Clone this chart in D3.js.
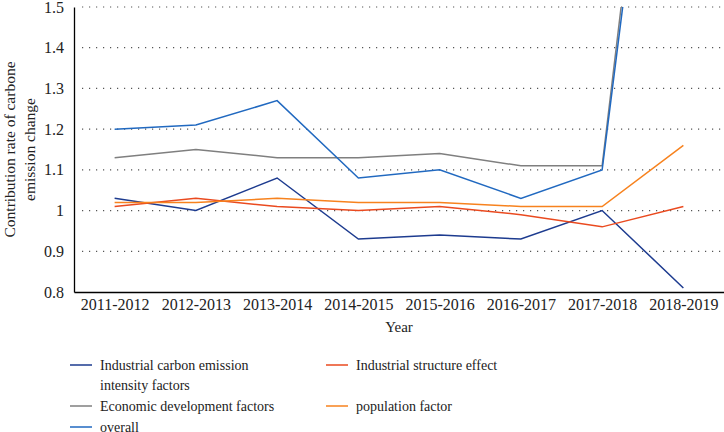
<!DOCTYPE html>
<html>
<head>
<meta charset="utf-8">
<script src="https://cdn.jsdelivr.net/npm/d3@7"></script>
<style>
  body { margin: 0; background: #fff; }
  svg text { font-family: "Liberation Serif", "DejaVu Serif", serif !important; fill: #222; }
</style>
</head>
<body>
<svg width="724" height="432"></svg>
<script>
// Data
var years = ["2011-2012", "2012-2013", "2013-2014", "2014-2015", "2015-2016", "2016-2017", "2017-2018", "2018-2019"];
var intensity = [1.03, 1.00, 1.08, 0.93, 0.94, 0.93, 1.00, 0.81];
var structure = [1.01, 1.03, 1.01, 1.00, 1.01, 0.99, 0.96, 1.01];
var economic = [1.13, 1.15, 1.13, 1.13, 1.14, 1.11, 1.11, 2.78];
var population = [1.02, 1.02, 1.03, 1.02, 1.02, 1.01, 1.01, 1.16];
var overall = [1.20, 1.21, 1.27, 1.08, 1.10, 1.03, 1.10, 2.68];
var yTicks = [0.8, 0.9, 1, 1.1, 1.2, 1.3, 1.4, 1.5];

var series = [
  { name: "Industrial carbon emission intensity factors", values: intensity, color: "#1d3b8f" },
  { name: "Industrial structure effect", values: structure, color: "#ea4a1f" },
  { name: "Economic development factors", values: economic, color: "#7f7f7f" },
  { name: "population factor", values: population, color: "#f7821e" },
  { name: "overall", values: overall, color: "#2169c0" }
];

var serif = '"Liberation Serif", "DejaVu Serif", serif';
var svg = d3.select("svg");
var pLeft = 74, pRight = 724, pTop = 7, pBottom = 292;

var x = d3.scalePoint().domain(years).range([pLeft, pRight]).padding(0.5);
var y = d3.scaleLinear().domain([0.8, 1.5]).range([pBottom, pTop]);

// dotted gridlines
svg.append("g")
  .selectAll("line")
  .data(yTicks.filter(function(d) { return d > 0.8; }))
  .enter().append("line")
  .attr("x1", pLeft + 8).attr("x2", pRight)
  .attr("y1", function(d) { return y(d); })
  .attr("y2", function(d) { return y(d); })
  .attr("stroke", "#555")
  .attr("stroke-width", 1.2)
  .attr("stroke-dasharray", "1.2,5.8");

// clip for lines running over the top
svg.append("clipPath").attr("id", "plot")
  .append("rect").attr("x", pLeft).attr("y", pTop).attr("width", pRight - pLeft).attr("height", pBottom - pTop);

var line = d3.line()
  .x(function(d, i) { return x(years[i]); })
  .y(function(d) { return y(d); });

svg.append("g").attr("clip-path", "url(#plot)")
  .selectAll("path")
  .data([series[0], series[1], series[3], series[2], series[4]])
  .enter().append("path")
  .attr("d", function(d) { return line(d.values); })
  .attr("fill", "none")
  .attr("stroke", function(d) { return d.color; })
  .attr("stroke-width", 1.5);

// axes
var yAxis = svg.append("g").attr("transform", "translate(" + pLeft + ",0)")
  .call(d3.axisLeft(y).tickValues(yTicks).tickSize(0).tickPadding(10)
    .tickFormat(function(d) { return d === 1 ? "1" : d3.format(".1f")(d); }));
yAxis.attr("font-family", serif);
yAxis.select(".domain").attr("stroke", "#000").attr("stroke-width", 1.3);
yAxis.selectAll("text").style("font-size", "16px").style("font-family", serif).attr("fill", null);

var xAxis = svg.append("g").attr("transform", "translate(0," + pBottom + ")")
  .call(d3.axisBottom(x).tickSize(0).tickPadding(7));
xAxis.attr("font-family", serif);
xAxis.select(".domain").attr("stroke", "#000").attr("stroke-width", 1.3);
xAxis.selectAll("text").style("font-size", "16px").style("font-family", serif).attr("fill", null);

// axis titles
svg.append("text")
  .attr("x", (pLeft + pRight) / 2).attr("y", 332)
  .attr("text-anchor", "middle").style("font-size", "15px").style("font-family", serif)
  .text("Year");

var yt = svg.append("text")
  .attr("transform", "translate(15," + ((pTop + pBottom) / 2) + ") rotate(-90)")
  .attr("text-anchor", "middle").style("font-size", "15.5px").style("font-family", serif);
yt.append("tspan").attr("x", 0).attr("dy", 0).text("Contribution rate of carbone");
yt.append("tspan").attr("x", 0).attr("dy", 20).text("emission change");

// legend
var legendItems = [
  { s: series[0], lx: 70, ly: 365, lines: ["Industrial carbon emission", "intensity factors"] },
  { s: series[1], lx: 326, ly: 365, lines: ["Industrial structure effect"] },
  { s: series[2], lx: 70, ly: 406, lines: ["Economic development factors"] },
  { s: series[3], lx: 326, ly: 406, lines: ["population factor"] },
  { s: series[4], lx: 70, ly: 427, lines: ["overall"] }
];

var lg = svg.append("g").selectAll("g").data(legendItems).enter().append("g");
lg.append("line")
  .attr("x1", function(d) { return d.lx; })
  .attr("x2", function(d) { return d.lx + 22; })
  .attr("y1", function(d) { return d.ly; })
  .attr("y2", function(d) { return d.ly; })
  .attr("stroke", function(d) { return d.s.color; })
  .attr("stroke-width", 1.5);
lg.each(function(d) {
  var t = d3.select(this).append("text").style("font-size", "14px").style("font-family", serif);
  d.lines.forEach(function(l, i) {
    t.append("tspan").attr("x", d.lx + 30).attr("y", d.ly + 5 + i * 20).text(l);
  });
});
</script>
</body>
</html>
